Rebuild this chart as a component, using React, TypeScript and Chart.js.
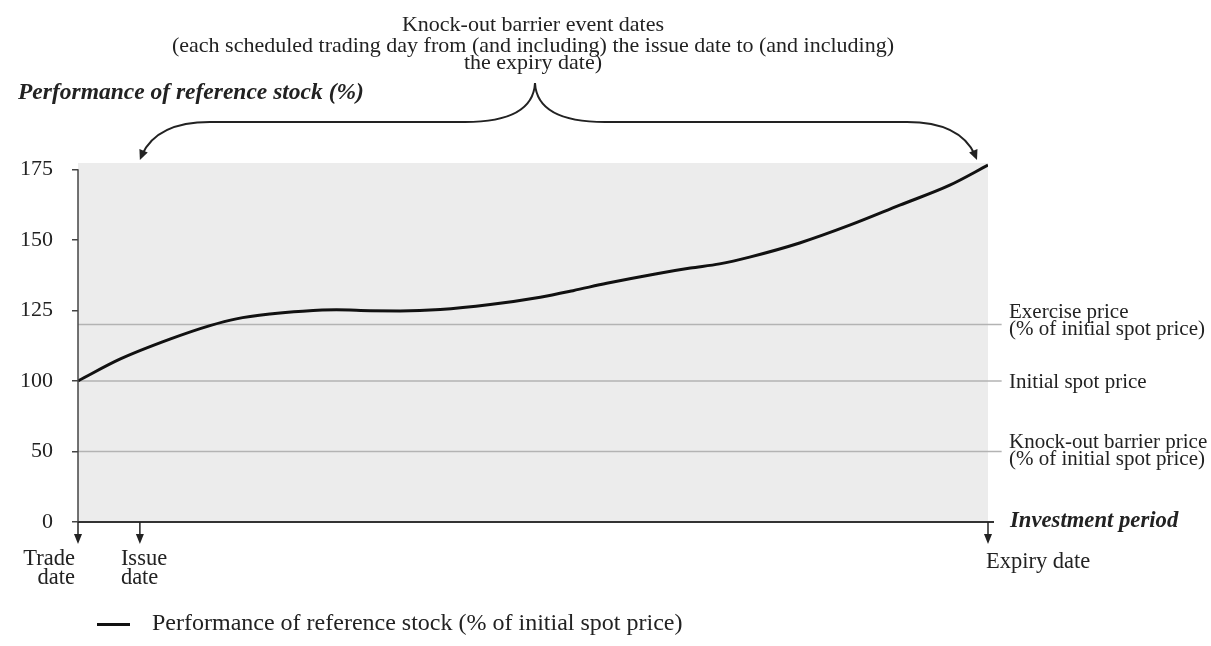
import React, { useEffect, useRef } from 'react';
import { Chart, registerables } from 'chart.js';

Chart.register(...registerables);

// ---------- data ----------
// investment period (0 = trade date, 100 = expiry date)
const periodX = [0, 4.6, 10.1, 14.5, 17.4, 21.1, 24.7, 28.4, 32.1, 35.4, 39.8, 45.3, 50.8, 54.4, 58.1, 63.6, 67.3, 70.5, 73.8, 79.3, 84.8, 90.3, 95.8, 100];
// performance of reference stock (% of initial spot price)
const performance = [100, 107.7, 114.8, 119.6, 122.0, 123.7, 124.7, 125.2, 124.9, 124.8, 125.3, 127.1, 129.7, 132.0, 134.6, 138.0, 140.0, 141.5, 143.9, 148.9, 155.2, 162.3, 169.4, 176.5];

const yTickValues = [0, 50, 100, 125, 150, 175];
const yTickLabels = ['0', '50', '100', '125', '150', '175'];

const referenceValues = [120, 100, 50];
const referenceLabels = [
  ['Exercise price', '(% of initial spot price)'],
  ['Initial spot price'],
  ['Knock-out barrier price', '(% of initial spot price)'],
];

const xTickValues = [0, 6.8, 100];
const xTickLabels = [['Trade', 'date'], ['Issue', 'date'], ['Expiry date']];

const titleText = 'Knock-out barrier event dates';
const subtitleLines = [
  '(each scheduled trading day from (and including) the issue date to (and including)',
  'the expiry date)',
];
const yAxisTitle = 'Performance of reference stock (%)';
const xAxisTitle = 'Investment period';
const legendLabel = 'Performance of reference stock (% of initial spot price)';

// ---------- styles ----------
const FONT = "'Liberation Serif', 'Times New Roman', serif";
const TEXT = '#222';
const xLabelStyle = [
  { align: 'right', dx: -3, dy: 43 },
  { align: 'left', dx: -19, dy: 43 },
  { align: 'left', dx: -2, dy: 46 },
];
const refLabelOffsets = [[-6.5, 10.5], [7], [-3, 14]];

// broken value axis: 0–100 at half the scale of 100–175
const toAxis = (v: number) => (v >= 100 ? 2 + (v - 100) / 25 : v / 50);

const decorPlugin = {
  id: 'decor',
  beforeDraw(chart: any) {
    const { ctx, chartArea: a } = chart;
    ctx.save();
    ctx.fillStyle = '#ececec';
    ctx.fillRect(a.left, a.top, a.right - a.left, a.bottom - a.top);
    ctx.restore();
  },
  afterDatasetsDraw(chart: any) {
    const { ctx, chartArea: a, scales } = chart;
    const xs = scales.x;
    const ys = scales.y;
    ctx.save();

    // y axis line
    ctx.strokeStyle = '#444';
    ctx.lineWidth = 1.5;
    ctx.beginPath();
    ctx.moveTo(a.left, ys.getPixelForValue(toAxis(yTickValues[yTickValues.length - 1])));
    ctx.lineTo(a.left, a.bottom);
    ctx.stroke();

    // x axis line
    ctx.strokeStyle = '#333';
    ctx.lineWidth = 2;
    ctx.beginPath();
    ctx.moveTo(a.left, a.bottom);
    ctx.lineTo(a.right + 6, a.bottom);
    ctx.stroke();

    // x arrows + labels
    ctx.fillStyle = TEXT;
    ctx.strokeStyle = TEXT;
    ctx.font = `22.5px ${FONT}`;
    ctx.textBaseline = 'alphabetic';
    xTickValues.forEach((v, i) => {
      const px = xs.getPixelForValue(v);
      ctx.lineWidth = 1.5;
      ctx.beginPath();
      ctx.moveTo(px, a.bottom);
      ctx.lineTo(px, a.bottom + 14);
      ctx.stroke();
      ctx.beginPath();
      ctx.moveTo(px - 4, a.bottom + 12);
      ctx.lineTo(px + 4, a.bottom + 12);
      ctx.lineTo(px, a.bottom + 22);
      ctx.closePath();
      ctx.fill();
      const st = xLabelStyle[i];
      ctx.textAlign = st.align;
      xTickLabels[i].forEach((line, j) => ctx.fillText(line, px + st.dx, a.bottom + st.dy + j * 19));
    });

    // reference line labels
    ctx.font = `21px ${FONT}`;
    ctx.textAlign = 'left';
    referenceValues.forEach((v, i) => {
      const py = ys.getPixelForValue(toAxis(v));
      referenceLabels[i].forEach((line, j) => ctx.fillText(line, a.right + 21, py + refLabelOffsets[i][j]));
    });

    // axis titles
    ctx.font = `italic bold 23.5px ${FONT}`;
    ctx.fillText(yAxisTitle, a.left - 60, a.top - 64);
    ctx.font = `italic bold 22.7px ${FONT}`;
    ctx.fillText(xAxisTitle, a.right + 22, a.bottom + 5);

    // brace with arrows
    const lx = xs.getPixelForValue(xTickValues[1]);
    const rx = a.right - 11;
    const cx = (a.left + a.right) / 2 + 2;
    const hy = a.top - 41;
    const peakY = a.top - 80;
    const tipY = a.top - 3;
    ctx.strokeStyle = '#222';
    ctx.lineWidth = 2;
    ctx.beginPath();
    ctx.moveTo(lx + 2, tipY - 5);
    ctx.quadraticCurveTo(lx + 17, hy, lx + 70, hy);
    ctx.lineTo(cx - 70, hy);
    ctx.quadraticCurveTo(cx - 2, hy, cx, peakY);
    ctx.quadraticCurveTo(cx + 2, hy, cx + 70, hy);
    ctx.lineTo(rx - 70, hy);
    ctx.quadraticCurveTo(rx - 17, hy, rx - 2, tipY - 5);
    ctx.stroke();
    const head = (tx: number, ty: number, dx: number, dy: number) => {
      const n = Math.hypot(dx, dy);
      const ux = dx / n, uy = dy / n;
      const bx = tx - ux * 10, by = ty - uy * 10;
      ctx.beginPath();
      ctx.moveTo(tx, ty);
      ctx.lineTo(bx - uy * 4.5, by + ux * 4.5);
      ctx.lineTo(bx + uy * 4.5, by - ux * 4.5);
      ctx.closePath();
      ctx.fill();
    };
    ctx.fillStyle = '#222';
    head(lx, tipY, -0.4, 1);
    head(rx, tipY, 0.4, 1);

    ctx.restore();
  },
};

export default function App() {
  const ref = useRef<HTMLCanvasElement>(null);

  useEffect(() => {
    document.body.style.margin = '0';
    const canvas = ref.current;
    if (!canvas) return;

    const icon = document.createElement('canvas');
    icon.width = 43;
    icon.height = 3;
    const ictx = icon.getContext('2d');
    if (ictx) {
      ictx.fillStyle = '#111';
      ictx.fillRect(0, 0, 33, 3);
    }

    const chart = new Chart(canvas, {
      type: 'line',
      data: {
        datasets: [
          {
            label: legendLabel,
            data: periodX.map((x, i) => ({ x, y: toAxis(performance[i]) })),
            borderColor: '#111',
            backgroundColor: '#111',
            borderWidth: 3,
            pointRadius: 0,
            cubicInterpolationMode: 'monotone',
            order: 0,
          },
          ...referenceValues.map((v) => ({
            label: `ref-${v}`,
            data: [
              { x: 0, y: toAxis(v) },
              { x: 101.5, y: toAxis(v) },
            ],
            borderColor: '#b3b3b3',
            backgroundColor: '#b3b3b3',
            borderWidth: 1.5,
            pointRadius: 0,
            clip: false,
            order: 1,
          })),
        ] as any,
      },
      options: {
        responsive: false,
        animation: false,
        devicePixelRatio: 1,
        events: [],
        layout: { padding: { left: 20, right: 223, top: 14, bottom: 0 } },
        scales: {
          x: {
            type: 'linear',
            min: 0,
            max: 100,
            grid: { display: false },
            border: { display: false },
            ticks: { display: false },
            afterFit: (s: any) => {
              s.height = 71;
            },
          },
          y: {
            type: 'linear',
            min: 0,
            max: 5.09,
            afterBuildTicks: (s: any) => {
              s.ticks = yTickValues.map((v) => ({ value: toAxis(v) }));
            },
            afterFit: (s: any) => {
              s.width = 58;
            },
            ticks: {
              callback: (_v: any, i: number) => yTickLabels[i],
              font: { family: FONT, size: 22 },
              color: TEXT,
              padding: 19,
            },
            grid: { drawOnChartArea: false, drawTicks: true, tickLength: 6, color: '#444', lineWidth: 1.5 },
            border: { display: false },
          },
        },
        plugins: {
          title: {
            display: true,
            text: titleText,
            fullSize: false,
            color: TEXT,
            font: { family: FONT, size: 22, weight: 'normal', lineHeight: 1 },
            padding: { top: 0, bottom: 0 },
          },
          subtitle: {
            display: true,
            text: subtitleLines,
            fullSize: false,
            color: TEXT,
            font: { family: FONT, size: 22, weight: 'normal', lineHeight: 17 / 22 },
            padding: { top: 2, bottom: 91 },
          },
          legend: {
            display: true,
            position: 'bottom',
            align: 'start',
            fullSize: false,
            labels: {
              usePointStyle: true,
              pointStyle: icon,
              pointStyleWidth: 43,
              padding: 19,
              color: TEXT,
              font: { family: FONT, size: 24 },
              filter: (item: any) => item.datasetIndex === 0,
            },
          },
          tooltip: { enabled: false },
        },
      } as any,
      plugins: [decorPlugin],
    });

    return () => chart.destroy();
  }, []);

  return (
    <div style={{ width: 1211, height: 646 }}>
      <canvas ref={ref} width={1211} height={646} style={{ display: 'block' }} />
    </div>
  );
}
